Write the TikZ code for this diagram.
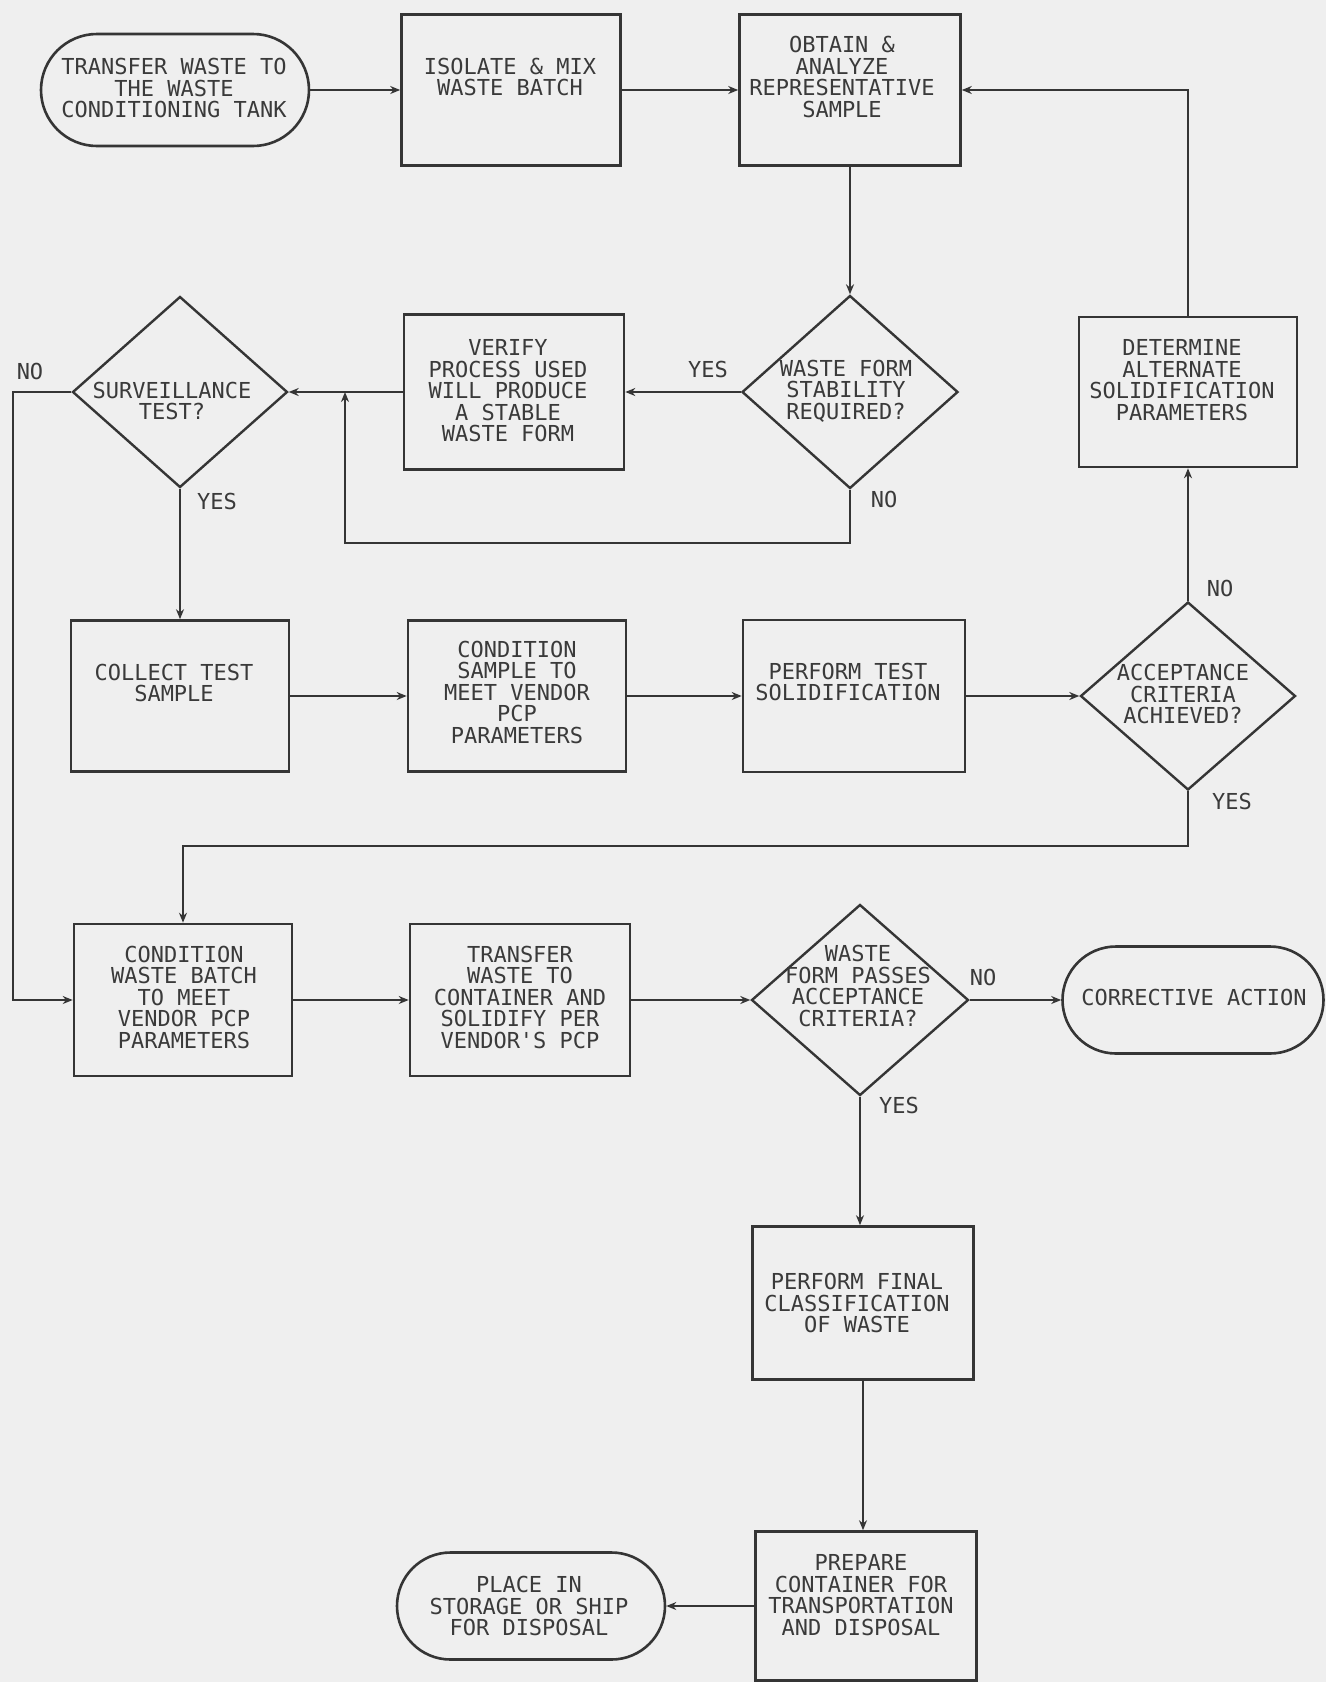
\documentclass[tikz,border=0pt]{standalone}
\usepackage{fontspec}
\newfontfamily\plotfont{DejaVu Sans Mono}
\usetikzlibrary{shapes.geometric,shapes.misc,arrows.meta}
\definecolor{ink}{HTML}{353535}
\definecolor{paper}{HTML}{EFEFEF}
\definecolor{txtc}{HTML}{3A3A3A}
\begin{document}
\begin{tikzpicture}[x=0.5pt,y=-0.5pt,
  box/.style={draw=ink,line width=1.3pt,rectangle,inner sep=0pt},
  dia/.style={draw=ink,line width=1.2pt,diamond,inner sep=0pt},
  term/.style={draw=ink,line width=1.3pt,rounded rectangle,inner sep=0pt},
  txt/.style={text=txtc,font=\plotfont\fontsize{11pt}{10.75pt}\selectfont,align=center,inner sep=0pt},
  conn/.style={draw=ink,line width=1.2pt,-{Stealth[length=5pt,width=4pt]}}]
\fill[paper] (0,0) rectangle (1326,1682);
\useasboundingbox (0,0) rectangle (1326,1682);

% shapes
\node[term,minimum width=134pt,minimum height=56pt] (start) at (175,90) {};
\node[box,minimum width=109.5pt,minimum height=75.5pt] (isolate) at (511,90) {};
\node[box,minimum width=110.5pt,minimum height=75.5pt] (obtain) at (850,90) {};
\node[dia,minimum width=107.5pt,minimum height=95.5pt] (surv) at (180,392) {};
\node[box,minimum width=110pt,minimum height=77.5pt] (verify) at (514,392) {};
\node[dia,minimum width=108pt,minimum height=96.5pt] (stab) at (850,392) {};
\node[box,minimum width=109pt,minimum height=75pt] (determine) at (1188,392) {};
\node[box,minimum width=109pt,minimum height=75.5pt] (collect) at (180,696) {};
\node[box,minimum width=109pt,minimum height=75.5pt] (condsample) at (517,696) {};
\node[box,minimum width=111pt,minimum height=76pt] (perftest) at (854,696) {};
\node[dia,minimum width=107.5pt,minimum height=94pt] (accept) at (1188,696) {};
\node[box,minimum width=109pt,minimum height=76pt] (condwaste) at (183,1000) {};
\node[box,minimum width=110pt,minimum height=76pt] (transfer) at (520,1000) {};
\node[dia,minimum width=108.5pt,minimum height=95.5pt] (passes) at (860,1000) {};
\node[term,minimum width=130.5pt,minimum height=53.5pt] (corrective) at (1193,1000) {};
\node[box,minimum width=110.5pt,minimum height=76.5pt] (final) at (863,1303) {};
\node[box,minimum width=110.5pt,minimum height=74.5pt] (prepare) at (866,1606) {};
\node[term,minimum width=134pt,minimum height=53.5pt] (place) at (531,1606) {};

% texts
\node[txt] (tstart) at (174,88) {TRANSFER WASTE TO\\THE WASTE\\CONDITIONING TANK};
\node[txt] (tisolate) at (510,77) {ISOLATE \& MIX\\WASTE BATCH};
\node[txt] (tobtain) at (842,77) {OBTAIN \&\\ANALYZE\\REPRESENTATIVE\\SAMPLE};
\node[txt] (tsurv) at (172,401) {SURVEILLANCE\\TEST?};
\node[txt] (tverify) at (508,391) {VERIFY\\PROCESS USED\\WILL PRODUCE\\A STABLE\\WASTE FORM};
\node[txt] (tstab) at (846,391) {WASTE FORM\\STABILITY\\REQUIRED?};
\node[txt] (tdetermine) at (1182,380) {DETERMINE\\ALTERNATE\\SOLIDIFICATION\\PARAMETERS};
\node[txt] (tcollect) at (174,683) {COLLECT TEST\\SAMPLE};
\node[txt] (tcondsample) at (517,692) {CONDITION\\SAMPLE TO\\MEET VENDOR\\PCP\\PARAMETERS};
\node[txt] (tperftest) at (848,682) {PERFORM TEST\\SOLIDIFICATION};
\node[txt] (taccept) at (1183,694) {ACCEPTANCE\\CRITERIA\\ACHIEVED?};
\node[txt] (tcondwaste) at (184,997) {CONDITION\\WASTE BATCH\\TO MEET\\VENDOR PCP\\PARAMETERS};
\node[txt] (ttransfer) at (520,997) {TRANSFER\\WASTE TO\\CONTAINER AND\\SOLIDIFY PER\\VENDOR'S PCP};
\node[txt] (tpasses) at (858,986) {WASTE\\FORM PASSES\\ACCEPTANCE\\CRITERIA?};
\node[txt] (tcorrective) at (1194,997) {CORRECTIVE ACTION};
\node[txt] (tfinal) at (857,1303) {PERFORM FINAL\\CLASSIFICATION\\OF WASTE};
\node[txt] (tprepare) at (861,1595) {PREPARE\\CONTAINER FOR\\TRANSPORTATION\\AND DISPOSAL};
\node[txt] (tplace) at (529,1606) {PLACE IN\\STORAGE OR SHIP\\FOR DISPOSAL};

% branch labels
\node[txt] (lno1) at (30,371) {NO};
\node[txt] (lyes1) at (217,501) {YES};
\node[txt] (lyes2) at (708,369) {YES};
\node[txt] (lno2) at (884,499) {NO};
\node[txt] (lno3) at (1220,588) {NO};
\node[txt] (lyes3) at (1232,801) {YES};
\node[txt] (lno4) at (983,977) {NO};
\node[txt] (lyes4) at (899,1105) {YES};

% helper coordinates
\coordinate (j1) at (345,392);
\coordinate (loopc) at (345,543);
\coordinate (lft) at (13,392);
\coordinate (yesc) at (183,846);

% connectors
\draw[conn] (start.east) -- (isolate.west);
\draw[conn] (isolate.east) -- (obtain.west);
\draw[conn] (obtain.south) -- (stab.north);
\draw[conn] (stab.west) -- (verify.east);
\draw[conn] (verify.west) -- (surv.east);
\draw[conn] (stab.south) |- (loopc) -- (j1);
\draw[conn] (surv.west) -- (lft) |- (condwaste.west);
\draw[conn] (surv.south) -- (collect.north);
\draw[conn] (collect.east) -- (condsample.west);
\draw[conn] (condsample.east) -- (perftest.west);
\draw[conn] (perftest.east) -- (accept.west);
\draw[conn] (accept.north) -- (determine.south);
\draw[conn] (determine.north) |- (obtain.east);
\draw[conn] (accept.south) |- (yesc) -- (condwaste.north);
\draw[conn] (condwaste.east) -- (transfer.west);
\draw[conn] (transfer.east) -- (passes.west);
\draw[conn] (passes.east) -- (corrective.west);
\draw[conn] (passes.south) -- (passes.south |- final.north);
\draw[conn] (final.south) -- (final.south |- prepare.north);
\draw[conn] (prepare.west) -- (place.east);
\end{tikzpicture}
\end{document}
